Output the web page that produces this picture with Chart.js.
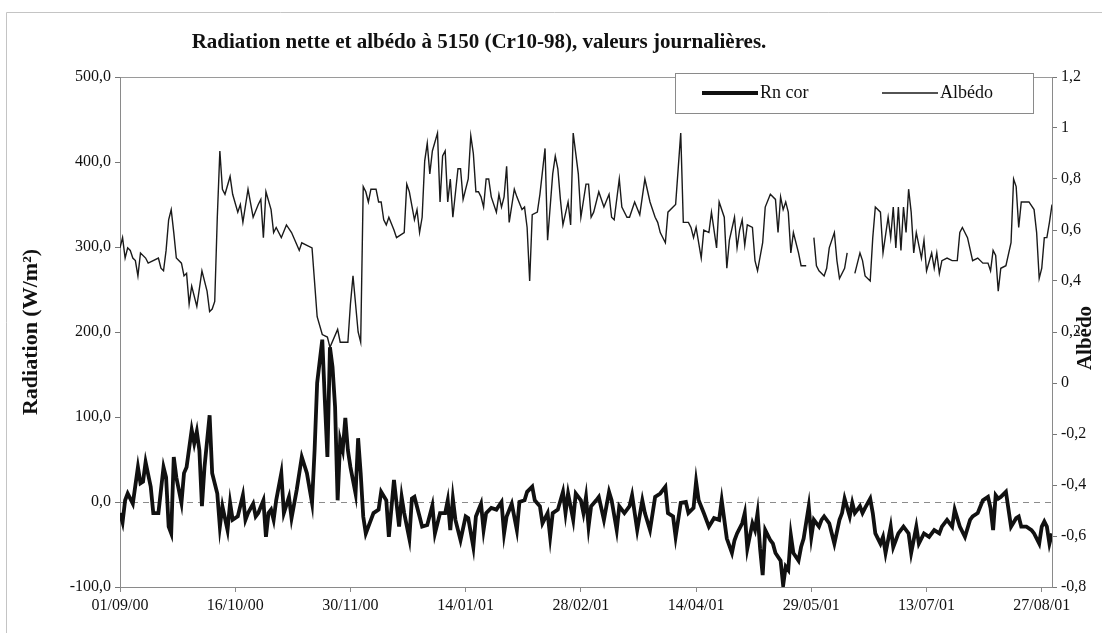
<!DOCTYPE html>
<html>
<head>
    <meta charset="utf-8">
    <title>Radiation nette et albédo</title>
    <script src="https://cdn.jsdelivr.net/npm/chart.js"></script>
    <style>
        html, body { margin: 0; padding: 0; background: #ffffff; }
        .chart-wrapper { width: 1106px; height: 633px; }
    </style>
</head>
<body>
<div class="chart-wrapper">
    <canvas id="rnChart" width="1106" height="633"></canvas>
</div>

<script>
    const chartTitle = 'Radiation nette et albédo à 5150 (Cr10-98), valeurs journalières.';
    const rightTitle = 'Albédo';

    // x tick positions (days since 01/09/00) and their labels
    const tickDays = [0, 45, 90, 135, 180, 225, 270, 315, 360];
    const tickLabels = ['01/09/00', '16/10/00', '30/11/00', '14/01/01', '28/02/01', '14/04/01', '29/05/01', '13/07/01', '27/08/01'];
    const lastDay = 364; // 31/08/01

    // Rn cor (W/m2)
    const rnDays = [
        0, 1, 2, 3, 5, 7, 8, 9, 10, 12, 13, 15, 17, 18, 19, 20, 21, 22, 24, 25,
        26, 28, 29, 30, 31, 32, 33, 35, 36, 38, 39, 40, 42, 43, 44, 46, 48, 49, 50, 52,
        53, 54, 56, 57, 58, 59, 60, 61, 63, 64, 66, 67, 69, 71, 73, 75, 76, 77, 79, 80,
        81, 82, 83, 84, 85, 86, 87, 88, 89, 90, 92, 93, 94, 95, 96, 98, 99, 101, 102, 104,
        105, 107, 109, 110, 111, 113, 114, 115, 117, 118, 120, 122, 123, 125, 127, 128, 129, 130, 131, 133,
        135, 136, 138, 139, 141, 142, 143, 145, 147, 149, 150, 151, 153, 155, 156, 158, 159, 161, 162, 164,
        165, 167, 168, 169, 171, 173, 174, 175, 177, 178, 180, 181, 182, 183, 184, 186, 187, 189, 191, 192,
        194, 195, 197, 199, 200, 202, 204, 205, 207, 209, 211, 213, 214, 216, 217, 219, 221, 222, 224, 225,
        226, 228, 230, 232, 234, 235, 237, 239, 240, 241, 243, 244, 245, 247, 248, 249, 250, 251, 252, 254,
        255, 256, 258, 259, 260, 261, 262, 263, 265, 266, 267, 269, 270, 271, 273, 274, 275, 277, 278, 279,
        281, 282, 283, 285, 286, 287, 289, 290, 291, 293, 294, 295, 297, 298, 299, 301, 302, 303, 304, 306,
        308, 309, 311, 312, 314, 316, 318, 320, 321, 323, 325, 326, 328, 330, 332, 333, 335, 337, 339, 340,
        341, 342, 343, 344, 346, 348, 350, 351, 352, 354, 356, 357, 359, 360, 361, 362, 363, 364
    ];
    const rnValues = [
        -13, -24, 2, 10, -2, 41, 22, 24, 47, 18, -13, -13, 41, 29, -29, -37, 53, 29, -1, 34,
        41, 85, 69, 83, 61, -5, 41, 102, 34, 10, -29, -5, -33, -1, -21, -17, 8, -21, -13, -2,
        -17, -13, 2, -41, -13, -9, -21, 2, 34, -13, 6, -19, 14, 53, 34, -1, 61, 140, 191, 120,
        53, 182, 159, 112, 2, 73, 61, 99, 61, 41, 10, 75, 34, -17, -37, -21, -13, -9, 12, 2,
        -41, 26, -29, 6, -13, -43, 4, 6, -17, -29, -27, -4, -37, -13, -13, 2, -33, 4, -21, -45,
        -17, -19, -53, -17, -2, -33, -13, -7, -9, 0, -37, -17, -2, -33, 0, 2, 12, 18, 2, -5,
        -25, -13, -41, -13, -9, 12, -13, 10, -21, 10, 2, -13, 6, -29, -5, 2, 6, -21, 12, 2,
        -33, -5, -13, -5, 8, -33, 2, -13, -33, 6, 10, 18, -13, -17, -41, -1, 0, -13, -7, 24,
        2, -13, -29, -19, -21, 2, -43, -60, -45, -37, -25, -13, -55, -25, -33, -13, -55, -86, -33, -45,
        -49, -60, -69, -98, -76, -80, -39, -60, -69, -53, -43, -5, -41, -21, -29, -21, -17, -25, -37, -49,
        -21, -13, 4, -17, -1, -13, -5, -13, -7, 4, -13, -37, -49, -41, -60, -29, -53, -45, -37, -29,
        -37, -60, -29, -49, -37, -41, -33, -37, -29, -21, -29, -9, -29, -41, -21, -17, -13, 2, 6, -7,
        -33, 8, 4, 6, 12, -29, -19, -17, -29, -29, -33, -37, -49, -29, -23, -29, -49, -37
    ];

    // Albédo (null = missing days)
    const albDays = [
        0, 1, 2, 3, 4, 5, 6, 7, 8, 10, 11, 15, 16, 17, 18, 19, 20, 21, 22, 24,
        25, 26, 27, 28, 30, 32, 34, 35, 36, 37, 38, 39, 40, 41, 43, 44, 46, 47, 48, 50,
        52, 54, 55, 56, 57, 59, 60, 61, 63, 65, 67, 70, 71, 73, 75, 77, 79, 81, 82, 85,
        86, 89, 90, 91, 93, 94, 95, 96, 97, 98, 100, 101, 102, 103, 104, 105, 107, 108, 111, 112,
        113, 115, 116, 117, 118, 119, 120, 121, 122, 124, 125, 126, 127, 128, 129, 130, 132, 133, 134, 136,
        137, 138, 139, 140, 141, 142, 143, 144, 145, 147, 148, 149, 150, 151, 152, 154, 155, 157, 158, 159,
        160, 161, 163, 164, 166, 167, 169, 170, 171, 172, 173, 175, 176, 177, 179, 180, 182, 183, 184, 185,
        187, 189, 191, 192, 193, 195, 196, 198, 199, 201, 203, 205, 207, 209, 210, 211, 213, 214, 216, 217,
        219, 220, 222, 223, 224, 225, 227, 228, 230, 231, 233, 234, 236, 237, 238, 240, 241, 242, 243, 244,
        245, 247, 248, 249, 251, 252, 254, 256, 257, 258, 259, 260, 261, 262, 263, 265, 266, 268, 270, 271,
        272, 273, 275, 276, 277, 279, 280, 281, 283, 284, 286, 287, 289, 290, 291, 293, 294, 295, 297, 298,
        300, 301, 302, 303, 304, 305, 306, 307, 308, 309, 310, 311, 313, 314, 315, 317, 318, 319, 320, 321,
        323, 325, 327, 328, 329, 331, 333, 335, 337, 339, 340, 341, 342, 343, 344, 346, 348, 349, 350, 351,
        352, 354, 355, 357, 358, 359, 360, 361, 362, 363, 364
    ];
    const albValues = [
        0.53, 0.57, 0.49, 0.53, 0.52, 0.49, 0.48, 0.42, 0.51, 0.49, 0.47, 0.49, 0.45, 0.44, 0.52, 0.64, 0.68, 0.59, 0.49, 0.47,
        0.42, 0.43, 0.31, 0.38, 0.30, 0.44, 0.36, 0.28, 0.29, 0.32, 0.65, 0.91, 0.76, 0.74, 0.81, 0.74, 0.67, 0.70, 0.63, 0.76,
        0.65, 0.70, 0.72, 0.57, 0.75, 0.68, 0.59, 0.61, 0.57, 0.62, 0.59, 0.52, 0.55, 0.54, 0.53, 0.26, 0.19, 0.18, 0.14, 0.21,
        0.16, 0.16, 0.31, 0.42, 0.20, 0.16, 0.77, 0.75, 0.71, 0.76, 0.76, 0.71, 0.71, 0.64, 0.62, 0.65, 0.60, 0.57, 0.59, 0.78,
        0.75, 0.64, 0.68, 0.59, 0.65, 0.87, 0.94, 0.82, 0.91, 0.98, 0.71, 0.89, 0.91, 0.71, 0.80, 0.65, 0.84, 0.84, 0.72, 0.80,
        0.97, 0.90, 0.75, 0.75, 0.73, 0.69, 0.80, 0.80, 0.73, 0.67, 0.74, 0.69, 0.73, 0.85, 0.63, 0.76, 0.73, 0.68, 0.69, 0.61,
        0.40, 0.66, 0.67, 0.74, 0.92, 0.56, 0.82, 0.89, 0.84, 0.72, 0.62, 0.71, 0.62, 0.98, 0.82, 0.65, 0.78, 0.78, 0.65, 0.67,
        0.75, 0.69, 0.74, 0.65, 0.64, 0.80, 0.69, 0.65, 0.65, 0.71, 0.66, 0.80, 0.71, 0.65, 0.63, 0.59, 0.55, 0.67, 0.69, 0.70,
        0.98, 0.63, 0.63, 0.61, 0.57, 0.61, 0.49, 0.60, 0.59, 0.67, 0.53, 0.71, 0.65, 0.45, 0.56, 0.65, 0.53, 0.60, 0.64, 0.54,
        0.62, 0.61, 0.48, 0.44, 0.55, 0.69, 0.74, 0.72, 0.59, 0.73, 0.68, 0.71, 0.67, 0.51, 0.59, 0.51, 0.46, 0.46, null, 0.57,
        0.46, 0.44, 0.42, 0.45, 0.53, 0.59, 0.48, 0.41, 0.45, 0.51, null, 0.43, 0.51, 0.48, 0.42, 0.40, 0.57, 0.69, 0.67, 0.51,
        0.65, 0.57, 0.69, 0.53, 0.69, 0.52, 0.69, 0.59, 0.76, 0.67, 0.51, 0.59, 0.49, 0.56, 0.44, 0.51, 0.45, 0.51, 0.43, 0.48,
        0.49, 0.48, 0.48, 0.59, 0.61, 0.57, 0.48, 0.49, 0.47, 0.47, 0.44, 0.52, 0.50, 0.36, 0.45, 0.46, 0.55, 0.80, 0.77, 0.61,
        0.71, 0.71, 0.71, 0.68, 0.59, 0.41, 0.45, 0.57, 0.57, 0.63, 0.70
    ];

    const serif = '"Liberation Serif", "Times New Roman", serif';

    // Title, right axis title, frames and the boxed legend
    const decorPlugin = {
        id: 'decor',
        beforeDraw(chart) {
            const ctx = chart.ctx;
            const a = chart.chartArea;
            ctx.save();
            ctx.fillStyle = '#ffffff';
            ctx.fillRect(0, 0, chart.width, chart.height);
            ctx.strokeStyle = '#c4c4c4';
            ctx.lineWidth = 1;
            ctx.beginPath();
            ctx.moveTo(6.5, chart.height);
            ctx.lineTo(6.5, 12.5);
            ctx.lineTo(chart.width - 4, 12.5);
            ctx.stroke();
            ctx.strokeStyle = '#9a9a9a';
            ctx.strokeRect(a.left + 0.5, a.top + 0.5, a.right - a.left, a.bottom - a.top);
            ctx.fillStyle = '#111111';
            ctx.font = 'bold 21px ' + serif;
            ctx.textAlign = 'center';
            ctx.textBaseline = 'middle';
            ctx.fillText(chartTitle, 479, 43);
            ctx.restore();
        },
        afterDraw(chart) {
            const ctx = chart.ctx;
            const a = chart.chartArea;
            ctx.save();
            // right axis title, read bottom to top
            ctx.translate(1086, 338);
            ctx.rotate(-Math.PI / 2);
            ctx.fillStyle = '#111111';
            ctx.font = 'bold 21px ' + serif;
            ctx.textAlign = 'center';
            ctx.textBaseline = 'middle';
            ctx.fillText(rightTitle, 0, 0);
            ctx.restore();

            // legend box
            const bx = a.right - 377, by = a.top - 4, bw = 358, bh = 40;
            ctx.save();
            ctx.fillStyle = '#ffffff';
            ctx.fillRect(bx, by, bw, bh);
            ctx.strokeStyle = '#8a8a8a';
            ctx.lineWidth = 1;
            ctx.strokeRect(bx + 0.5, by + 0.5, bw, bh);
            ctx.font = '18px ' + serif;
            ctx.textBaseline = 'middle';
            ctx.textAlign = 'left';
            chart.data.datasets.forEach((ds, i) => {
                const x0 = bx + 27 + i * 180;
                const y = by + bh / 2;
                ctx.strokeStyle = ds.borderColor;
                ctx.lineWidth = ds.borderWidth;
                ctx.beginPath();
                ctx.moveTo(x0, y);
                ctx.lineTo(x0 + 56, y);
                ctx.stroke();
                ctx.fillStyle = '#111111';
                ctx.fillText(ds.label, x0 + 58, y);
            });
            ctx.restore();
        }
    };

    const ctx = document.getElementById('rnChart').getContext('2d');
    const rnChart = new Chart(ctx, {
        type: 'line',
        data: {
            datasets: [
                {
                    label: 'Rn cor',
                    data: rnDays.map((d, i) => ({ x: d, y: rnValues[i] })),
                    borderColor: '#111111',
                    borderWidth: 3.8,
                    pointRadius: 0,
                    tension: 0,
                    yAxisID: 'y'
                },
                {
                    label: 'Albédo',
                    data: albDays.map((d, i) => ({ x: d, y: albValues[i] })),
                    borderColor: '#1a1a1a',
                    borderWidth: 1.4,
                    pointRadius: 0,
                    tension: 0,
                    spanGaps: false,
                    yAxisID: 'y1'
                }
            ]
        },
        options: {
            responsive: false,
            animation: false,
            layout: { padding: { top: 77, right: 0, bottom: 0, left: 0 } },
            plugins: {
                legend: { display: false },
                title: { display: false },
                tooltip: { enabled: false }
            },
            scales: {
                x: {
                    type: 'linear',
                    min: 0,
                    max: lastDay,
                    afterBuildTicks: s => { s.ticks = tickDays.map(v => ({ value: v })); },
                    afterFit: s => { s.height = 46; },
                    ticks: {
                        autoSkip: false,
                        maxRotation: 0,
                        padding: 4,
                        color: '#111111',
                        font: { family: serif, size: 16 },
                        callback: v => tickLabels[tickDays.indexOf(v)]
                    },
                    grid: { drawOnChartArea: false, tickLength: 5, color: '#8a8a8a' },
                    border: { color: '#8a8a8a' }
                },
                y: {
                    position: 'left',
                    min: -100,
                    max: 500,
                    afterFit: s => { s.width = 120; },
                    ticks: {
                        stepSize: 100,
                        padding: 4,
                        color: '#111111',
                        font: { family: serif, size: 16 },
                        callback: v => v.toFixed(1).replace('.', ',')
                    },
                    grid: {
                        tickLength: 5,
                        color: c => (c.tick && c.tick.value === 0) ? '#8c8c8c' : 'rgba(0,0,0,0)',
                        tickColor: '#777777'
                    },
                    border: { color: '#8a8a8a', dash: [6, 5] },
                    title: {
                        display: true,
                        text: 'Radiation (W/m²)',
                        color: '#111111',
                        font: { family: serif, size: 22, weight: 'bold' },
                        padding: { top: 18, bottom: 0 }
                    }
                },
                y1: {
                    position: 'right',
                    min: -0.8,
                    max: 1.2,
                    afterFit: s => { s.width = 54; },
                    ticks: {
                        stepSize: 0.2,
                        padding: 4,
                        color: '#111111',
                        font: { family: serif, size: 16 },
                        callback: v => (Math.round(v * 10) / 10).toString().replace('.', ',')
                    },
                    grid: { drawOnChartArea: false, tickLength: 5, tickColor: '#777777' },
                    border: { color: '#8a8a8a' }
                }
            }
        },
        plugins: [decorPlugin]
    });
</script>
</body>
</html>
